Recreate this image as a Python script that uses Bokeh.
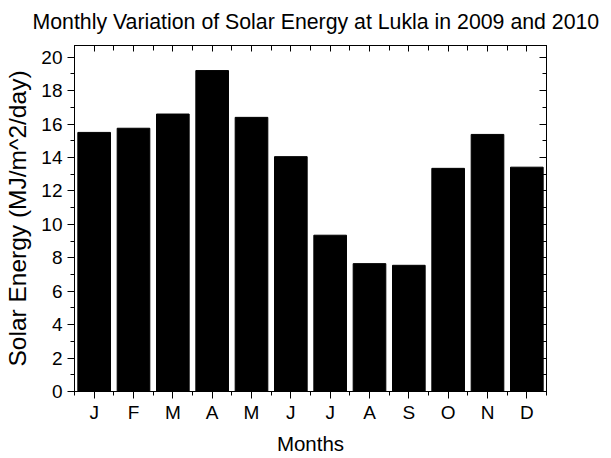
from bokeh.plotting import figure
from bokeh.models import Range1d, FixedTicker, LinearAxis, ColumnDataSource, Title
from bokeh.embed import file_html
from bokeh.resources import INLINE

# ---- data ----
months = ["J", "F", "M", "A", "M", "J", "J", "A", "S", "O", "N", "D"]
energy = [15.5, 15.75, 16.6, 19.2, 16.4, 14.05, 9.35, 7.65, 7.55, 13.35, 15.38, 13.42]
y_major = [0, 2, 4, 6, 8, 10, 12, 14, 16, 18, 20]
y_minor = [0, 1, 2, 3, 4, 5, 6, 7, 8, 9, 10, 11, 12, 13, 14, 15, 16, 17, 18, 19, 20]

positions = [i + 0.5 for i in range(len(months))]
bounds = [i for i in range(len(months) + 1)]

src = ColumnDataSource(dict(x=positions, top=energy, m=months))

FONT = "Liberation Sans"

p = figure(width=611, height=458, output_backend="svg", toolbar_location=None,
           x_range=Range1d(0, 12), y_range=Range1d(0, 20.7),
           min_border_left=74, min_border_right=65, min_border_top=45, min_border_bottom=67,
           x_axis_location=None, y_axis_location=None)

p.title.text = "Monthly Variation of Solar Energy at Lukla in 2009 and 2010"
p.title.text_font = FONT
p.title.text_font_size = "21.3px"
p.title.text_font_style = "normal"
p.title.align = "left"
p.title.vertical_align = "top"
p.title.offset = -42
p.title.standoff = 19
p.title.text_color = "black"

p.xgrid.grid_line_color = None
p.ygrid.grid_line_color = None
p.outline_line_color = "black"
p.outline_line_alpha = 1
p.outline_line_width = 1
p.background_fill_color = "white"

p.vbar(x="x", top="top", width=0.83, source=src, fill_color="black", line_color="black")

xt = FixedTicker(ticks=positions, minor_ticks=bounds)
yt = FixedTicker(ticks=y_major, minor_ticks=y_minor)

left = LinearAxis(ticker=yt, axis_label="Solar Energy (MJ/m^2/day)")
left.major_tick_out = 7
left.major_tick_in = 0
left.minor_tick_out = 4
left.minor_tick_in = 0
left.major_label_standoff = 5
left.axis_label_standoff = 7
left.major_label_text_font = FONT
left.major_label_text_font_size = "19px"
left.major_label_text_color = "black"
left.axis_label_text_font = FONT
left.axis_label_text_font_size = "24.5px"
left.axis_label_text_font_style = "normal"
left.axis_label_text_color = "black"
p.add_layout(left, "left")

bottom = LinearAxis(ticker=xt)
bottom.major_label_overrides = {pos: m for pos, m in zip(positions, months)}
bottom.major_tick_out = 7
bottom.major_tick_in = 0
bottom.minor_tick_out = 4
bottom.minor_tick_in = 0
bottom.major_label_standoff = 3
bottom.major_label_text_font = FONT
bottom.major_label_text_font_size = "19px"
bottom.major_label_text_color = "black"
p.add_layout(bottom, "below")

xlabel = Title(text="Months", align="center", text_font=FONT, text_font_size="20.5px",
               text_font_style="normal", text_color="black", standoff=8)
p.add_layout(xlabel, "below")

top = LinearAxis(ticker=xt)
top.major_tick_in = 6
top.major_tick_out = 0
top.minor_tick_in = 5
top.minor_tick_out = 0
top.major_label_overrides = {pos: "" for pos in positions}
top.major_label_standoff = 0
p.add_layout(top, "above")

right = LinearAxis(ticker=yt)
right.major_tick_in = 7
right.major_tick_out = 0
right.minor_tick_in = 4
right.minor_tick_out = 0
right.major_label_overrides = {v: "" for v in y_major}
right.major_label_standoff = 0
p.add_layout(right, "right")

open("out.html", "w").write(file_html(p, INLINE))
